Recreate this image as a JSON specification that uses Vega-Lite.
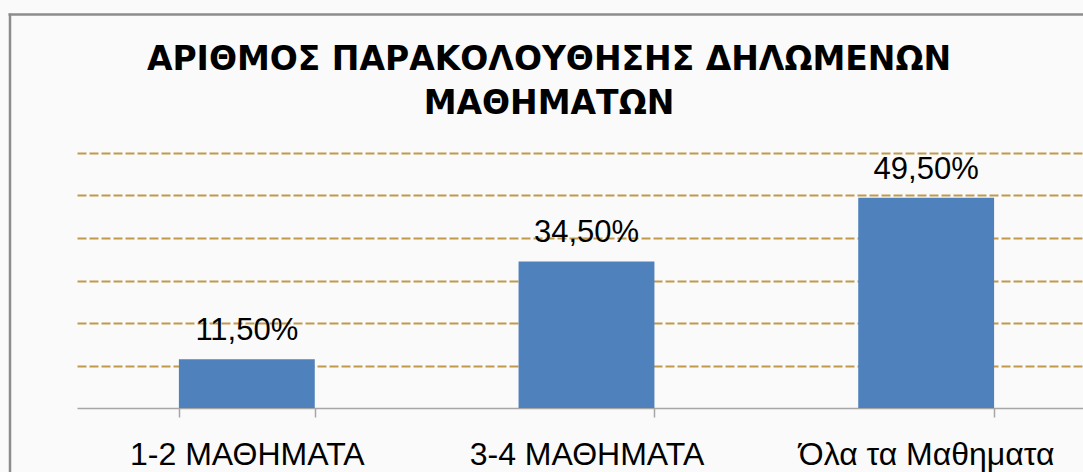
{
  "$schema": "https://vega.github.io/schema/vega-lite/v6.json",
  "width": 1006,
  "height": 255,
  "autosize": {"type": "none"},
  "padding": {"left": 77, "top": 153, "right": 0, "bottom": 64},
  "background": "#FAFAFA",
  "title": {
    "text": ["ΑΡΙΘΜΟΣ ΠΑΡΑΚΟΛΟΥΘΗΣΗΣ ΔΗΛΩΜΕΝΩΝ", "ΜΑΘΗΜΑΤΩΝ"],
    "font": "DejaVu Sans",
    "fontWeight": "bold",
    "fontSize": 33,
    "color": "#000000",
    "anchor": "middle",
    "frame": "group",
    "dx": -31,
    "lineHeight": 44,
    "baseline": "top",
    "offset": -107
  },
  "config": {
    "view": {"stroke": null},
    "axis": {"labelFont": "Liberation Sans", "titleFont": "Liberation Sans"}
  },
  "layer": [
    {
      "data": {
        "values": [
          {"cat": "1-2 ΜΑΘΗΜΑΤΑ", "value": 11.5, "label": "11,50%"},
          {"cat": "3-4 ΜΑΘΗΜΑΤΑ", "value": 34.5, "label": "34,50%"},
          {"cat": "Όλα τα Μαθηματα", "value": 49.5, "label": "49,50%"}
        ]
      },
      "encoding": {
        "x": {
          "field": "cat",
          "type": "nominal",
          "sort": null,
          "scale": {"range": [0, 1019], "paddingInner": 0.6, "paddingOuter": 0.3},
          "axis": {
            "title": null,
            "labelAngle": 0,
            "labelFontSize": 32,
            "labelLimit": 0,
            "labelColor": "#000000",
            "labelPadding": 22,
            "tickBand": "extent",
            "tickSize": 9,
            "tickColor": "#A6A6A6",
            "tickWidth": 1.5,
            "domainColor": "#A6A6A6",
            "domainWidth": 1.5,
            "grid": false
          }
        },
        "y": {
          "field": "value",
          "type": "quantitative",
          "scale": {"domain": [0, 60], "nice": false, "zero": true},
          "axis": {
            "title": null,
            "orient": "left",
            "labels": false,
            "ticks": false,
            "domain": false,
            "grid": true,
            "values": [10, 20, 30, 40, 50, 60],
            "gridColor": "#C09A4A",
            "gridWidth": 2,
            "gridDash": [9, 3]
          }
        }
      },
      "layer": [
        {"mark": {"type": "bar", "color": "#4F81BD"}},
        {
          "mark": {
            "type": "text",
            "font": "Liberation Sans",
            "fontSize": 31,
            "color": "#000000",
            "baseline": "alphabetic",
            "dy": -19
          },
          "encoding": {"text": {"field": "label"}}
        }
      ]
    },
    {
      "mark": {"type": "point", "opacity": 0},
      "encoding": {
        "x": {
          "datum": 0,
          "type": "quantitative",
          "scale": {"domain": [0, 1], "range": [-69, 1100]},
          "axis": {
            "orient": "top",
            "offset": 139,
            "title": null,
            "labels": false,
            "ticks": false,
            "grid": false,
            "domain": true,
            "domainColor": "#8C8C8C",
            "domainWidth": 2.5
          }
        },
        "y": {
          "datum": 0,
          "type": "quantitative",
          "scale": {"domain": [0, 1], "range": [340, -140]},
          "axis": {
            "orient": "left",
            "offset": 67.5,
            "title": null,
            "labels": false,
            "ticks": false,
            "grid": false,
            "domain": true,
            "domainColor": "#8C8C8C",
            "domainWidth": 2.5
          }
        }
      }
    }
  ],
  "resolve": {
    "scale": {"x": "independent", "y": "independent"},
    "axis": {"x": "independent", "y": "independent"}
  }
}
